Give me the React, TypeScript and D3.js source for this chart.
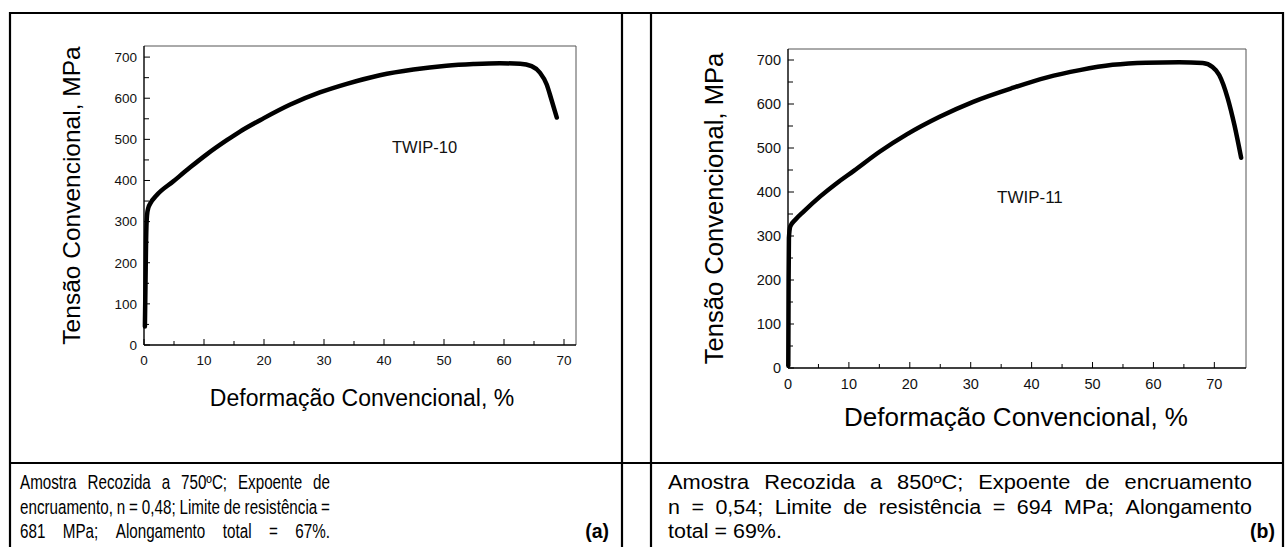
import React from 'react';
import * as d3 from 'd3';

// ---- Data ----
const leftStrain = [0.15, 0.25, 0.35, 0.5, 0.75, 1.0, 2.1, 4.9, 7.7, 10.4, 13.8, 16, 19.9, 24.3, 29.3, 33.8, 39.3, 44.9, 50.4, 54.9, 59.3, 62.7, 64.6, 66, 67.1, 67.9, 68.8];
const leftStress = [45, 150, 256, 315, 335, 343, 364, 398, 432, 463, 498, 519, 551, 584, 614, 635, 656, 670, 679, 683, 685, 684, 678, 662, 634, 597, 553];

const rightStrain = [0.05, 0.1, 0.15, 0.38, 1.2, 2.6, 5.3, 8.0, 10.8, 15.1, 19.5, 24.9, 30.4, 37, 42.4, 47.9, 53.3, 58.8, 64.2, 68.1, 69.7, 70.8, 72.2, 73.3, 74.4];
const rightStress = [5, 204, 295, 322, 337, 356, 390, 420, 448, 492, 531, 571, 605, 637, 660, 677, 689, 694, 695, 693, 684, 666, 613, 552, 478];

const xMajorTicks = [0, 10, 20, 30, 40, 50, 60, 70];
const xMinorTicks = [5, 15, 25, 35, 45, 55, 65];
const yMajorTicks = [0, 100, 200, 300, 400, 500, 600, 700];
const yMinorTicks = [50, 150, 250, 350, 450, 550, 650];

const yTitle = 'Tensão Convencional, MPa';
const xTitle = 'Deformação Convencional, %';

const leftCaption = [
  'Amostra Recozida a 750ºC; Expoente de',
  'encruamento, n = 0,48; Limite de resistência =',
  '681 MPa; Alongamento total = 67%.',
];
const rightCaption = [
  'Amostra Recozida a 850ºC; Expoente de encruamento',
  'n = 0,54; Limite de resistência = 694 MPa; Alongamento',
  'total = 69%.',
];

const FONT = 'Arial, "Liberation Sans", Helvetica, sans-serif';

function measure(text: string, size: number): number {
  if (typeof document === 'undefined') return text.length * size * 0.5;
  const c = document.createElement('canvas').getContext('2d');
  if (!c) return text.length * size * 0.5;
  c.font = `${size}px Arial, "Liberation Sans", sans-serif`;
  return c.measureText(text).width;
}

// a caption line; words spread to fill `width` when width > 0, glyphs scaled by sx
function CaptionLine({ text, x, y, width, size, sx }: { text: string; x: number; y: number; width: number; size: number; sx: number }) {
  const words = text.split(' ');
  const widths = words.map((w) => measure(w, size) * sx);
  const total = widths.reduce((a, b) => a + b, 0);
  const natural = measure(' ', size) * sx;
  const gap = width > 0 && words.length > 1 ? (width - total) / (words.length - 1) : natural;
  let cx = x;
  return (
    <g>
      {words.map((w, i) => {
        const el = (
          <text key={i} transform={`translate(${cx},${y}) scale(${sx},1)`}>
            {w}
          </text>
        );
        cx += widths[i] + gap;
        return el;
      })}
    </g>
  );
}

type ChartProps = {
  px0: number; px1: number; py0: number; py1: number;
  xMax: number; yMax: number;
  strain: number[]; stress: number[];
  tickFont: number; tickLabelOffset: number;
  yTitleX: number; yTitleFont: number;
  xTitleX: number; xTitleY: number; xTitleFont: number;
  label: string; labelX: number; labelY: number; labelFont: number;
};

function Chart(p: ChartProps) {
  const x = d3.scaleLinear().domain([0, p.xMax]).range([p.px0, p.px1]);
  const y = d3.scaleLinear().domain([0, p.yMax]).range([p.py0, p.py1]);
  const line = d3
    .line<number>()
    .x((_, i) => x(p.strain[i]))
    .y((d) => y(d))
    .curve(d3.curveMonotoneX);
  const path = line(p.stress) || '';
  return (
    <g fontFamily={FONT}>
      <line x1={p.px0} y1={p.py1} x2={p.px1} y2={p.py1} stroke="#555" strokeWidth={1} />
      <line x1={p.px1} y1={p.py1} x2={p.px1} y2={p.py0} stroke="#555" strokeWidth={1} />
      <line x1={p.px0} y1={p.py0} x2={p.px1} y2={p.py0} stroke="#000" strokeWidth={1.6} />
      <line x1={p.px0} y1={p.py0} x2={p.px0} y2={p.py1} stroke="#000" strokeWidth={1.4} />
      {xMajorTicks.map((t) => (
        <g key={'xm' + t}>
          <line x1={x(t)} x2={x(t)} y1={p.py0} y2={p.py0 - 6} stroke="#000" strokeWidth={1} />
          <text x={x(t)} y={p.py0 + p.tickLabelOffset} fontSize={p.tickFont} textAnchor="middle" fill="#111">{t}</text>
        </g>
      ))}
      {xMinorTicks.map((t) => (
        <line key={'xn' + t} x1={x(t)} x2={x(t)} y1={p.py0} y2={p.py0 - 4} stroke="#000" strokeWidth={1} />
      ))}
      {yMajorTicks.map((t) => (
        <g key={'ym' + t}>
          <line x1={p.px0} x2={p.px0 + 6} y1={y(t)} y2={y(t)} stroke="#000" strokeWidth={1} />
          <text x={p.px0 - 7} y={y(t) + p.tickFont * 0.36} fontSize={p.tickFont} textAnchor="end" fill="#111">{t}</text>
        </g>
      ))}
      {yMinorTicks.map((t) => (
        <line key={'yn' + t} x1={p.px0} x2={p.px0 + 5} y1={y(t)} y2={y(t)} stroke="#000" strokeWidth={1} />
      ))}
      <path d={path} fill="none" stroke="#000" strokeWidth={4.5} strokeLinecap="round" strokeLinejoin="round" />
      <text x={p.labelX} y={p.labelY} fontSize={p.labelFont} fill="#111">{p.label}</text>
      <text
        transform={`translate(${p.yTitleX},${(p.py0 + p.py1) / 2}) rotate(-90)`}
        fontSize={p.yTitleFont}
        textAnchor="middle"
        fill="#000"
      >
        {yTitle}
      </text>
      <text x={p.xTitleX} y={p.xTitleY} fontSize={p.xTitleFont} textAnchor="middle" fill="#000">{xTitle}</text>
    </g>
  );
}

export default function App() {
  const W = 1285;
  const H = 547;
  const capSize = 19.5;
  const lineY = [489, 513.5, 538];
  return (
    <svg
      width={W}
      height={H}
      style={{ position: 'absolute', left: 0, top: 0, background: '#fff' }}
    >
      <rect x={0} y={0} width={W} height={H} fill="#fff" />
      <g stroke="#000" strokeWidth={2.2}>
        <line x1={10} y1={13} x2={1283} y2={13} />
        <line x1={10} y1={12} x2={10} y2={H} />
        <line x1={1283} y1={12} x2={1283} y2={H} />
        <line x1={622} y1={12} x2={622} y2={H} />
        <line x1={651} y1={12} x2={651} y2={H} />
        <line x1={10} y1={463} x2={1283} y2={463} />
      </g>
      <Chart
        px0={144} px1={576} py0={345} py1={46}
        xMax={72} yMax={727}
        strain={leftStrain} stress={leftStress}
        tickFont={13.5} tickLabelOffset={20}
        yTitleX={80} yTitleFont={24.5}
        xTitleX={362} xTitleY={406} xTitleFont={23}
        label="TWIP-10" labelX={392} labelY={153} labelFont={16.5}
      />
      <Chart
        px0={788} px1={1246} py0={368} py1={49}
        xMax={75.2} yMax={725}
        strain={rightStrain} stress={rightStress}
        tickFont={14.5} tickLabelOffset={21}
        yTitleX={723} yTitleFont={25.6}
        xTitleX={1016} xTitleY={426} xTitleFont={26}
        label="TWIP-11" labelX={997} labelY={203} labelFont={17}
      />
      <g fontFamily={FONT} fontSize={capSize} fill="#000">
        {leftCaption.map((s, i) => (
          <CaptionLine key={'l' + i} text={s} x={20} y={lineY[i]} width={310} size={capSize} sx={0.78} />
        ))}
        <CaptionLine text={rightCaption[0]} x={668} y={lineY[0]} width={584} size={capSize} sx={1.12} />
        <CaptionLine text={rightCaption[1]} x={668} y={lineY[1]} width={584} size={capSize} sx={1.1} />
        <CaptionLine text={rightCaption[2]} x={668} y={lineY[2]} width={0} size={capSize} sx={1.1} />
        <text x={609} y={538} fontWeight="bold" textAnchor="end">(a)</text>
        <text x={1275} y={538} fontWeight="bold" textAnchor="end">(b)</text>
      </g>
    </svg>
  );
}
